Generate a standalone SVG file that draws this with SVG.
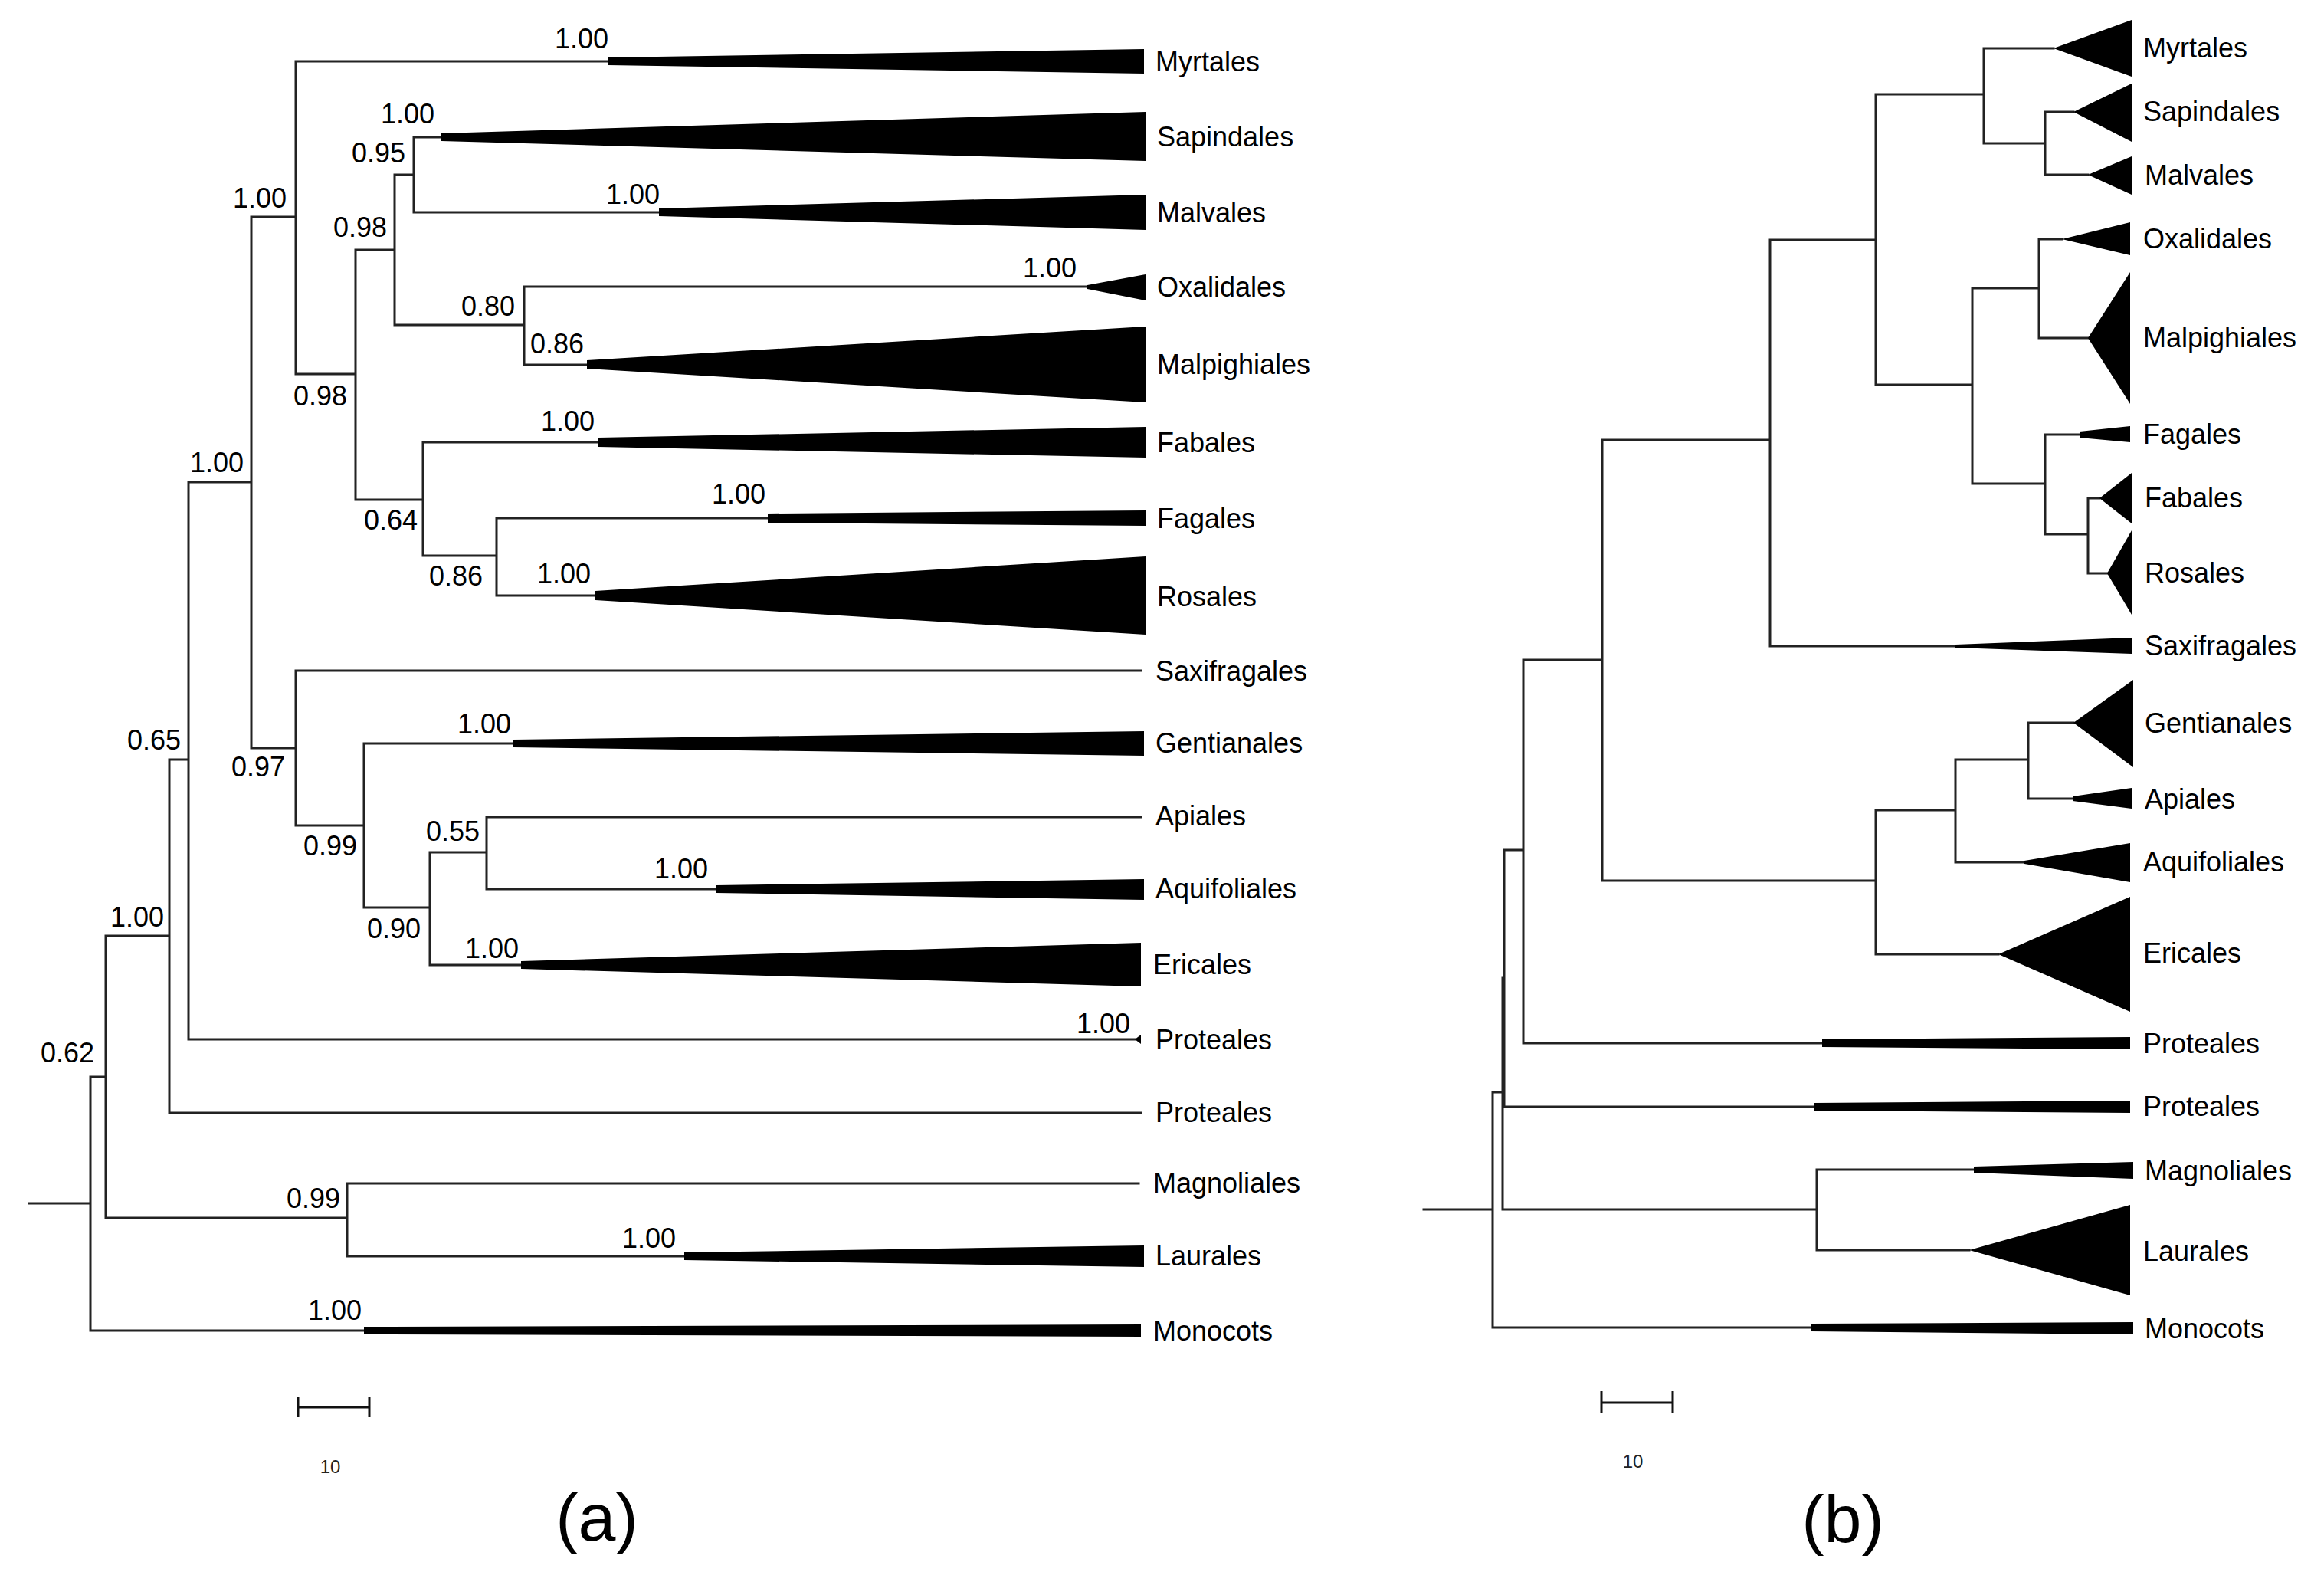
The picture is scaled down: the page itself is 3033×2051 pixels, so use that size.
<svg xmlns="http://www.w3.org/2000/svg" width="3033" height="2051" viewBox="0 0 3033 2051">
<style>
.br{fill:none;stroke:#222;stroke-width:3;stroke-linecap:square}
.cl{fill:#000;stroke:none}
.lb{font-family:"Liberation Sans",Arial,sans-serif;font-size:36px;fill:#000}
.sv{font-family:"Liberation Sans",Arial,sans-serif;font-size:36px;fill:#000}
.sc{font-family:"Liberation Sans",Arial,sans-serif;font-size:24px;fill:#222;text-anchor:middle}
.pl{font-family:"Liberation Sans",Arial,sans-serif;font-size:88px;fill:#000;text-anchor:middle}
.bar{fill:none;stroke:#111;stroke-width:3}
</style>
<rect width="3033" height="2051" fill="#fff"/>

<!-- ===== Tree (a) ===== -->
<g id="tree-a-connectors">
<path class="br" d="M38,1570H118 M118,1405V1736 M118,1405H138 M118,1736H475
M138,1221V1589 M138,1221H221 M138,1589H453
M453,1544V1639 M453,1544H1486 M453,1639H893
M221,991V1452 M221,991H246 M221,1452H1489
M246,629V1356 M246,629H328 M246,1356H1481
M328,283V976 M328,283H386 M328,976H386
M386,80V488 M386,80H793 M386,488H464
M464,326V652 M464,326H515 M464,652H552
M515,228V424 M515,228H540 M515,424H684
M540,179V277 M540,179H576 M540,277H860
M684,374V476 M684,374H1419 M684,476H766
M552,577V725 M552,577H781 M552,725H648
M648,676V777 M648,676H1002 M648,777H777
M386,875V1077 M386,875H1489 M386,1077H475
M475,970V1184 M475,970H670 M475,1184H561
M561,1112V1259 M561,1112H635 M561,1259H680
M635,1066V1160 M635,1066H1489 M635,1160H935"/>
</g>

<g id="a-myrtales"><polygon class="cl" points="793,75 1493,64 1493,96 793,85"/><text class="lb" x="1508" y="93">Myrtales</text></g>
<g id="a-sapindales"><polygon class="cl" points="576,174 1495,146 1495,210 576,184"/><text class="lb" x="1510" y="191">Sapindales</text></g>
<g id="a-malvales"><polygon class="cl" points="860,272 1495,254 1495,300 860,282"/><text class="lb" x="1510" y="290">Malvales</text></g>
<g id="a-oxalidales"><polygon class="cl" points="1419,372 1495,358 1495,392 1419,377"/><text class="lb" x="1510" y="387">Oxalidales</text></g>
<g id="a-malpighiales"><polygon class="cl" points="766,470 1495,426 1495,525 766,481"/><text class="lb" x="1510" y="488">Malpighiales</text></g>
<g id="a-fabales"><polygon class="cl" points="781,571 1495,557 1495,597 781,583"/><text class="lb" x="1510" y="590">Fabales</text></g>
<g id="a-fagales"><polygon class="cl" points="1002,670 1495,666 1495,686 1002,682"/><text class="lb" x="1510" y="689">Fagales</text></g>
<g id="a-rosales"><polygon class="cl" points="777,771 1495,726 1495,828 777,783"/><text class="lb" x="1510" y="791">Rosales</text></g>
<g id="a-saxifragales"><text class="lb" x="1508" y="888">Saxifragales</text></g>
<g id="a-gentianales"><polygon class="cl" points="670,965 1493,954 1493,986 670,975"/><text class="lb" x="1508" y="982">Gentianales</text></g>
<g id="a-apiales"><text class="lb" x="1508" y="1077">Apiales</text></g>
<g id="a-aquifoliales"><polygon class="cl" points="935,1155 1493,1147 1493,1174 935,1165"/><text class="lb" x="1508" y="1172">Aquifoliales</text></g>
<g id="a-ericales"><polygon class="cl" points="680,1254 1489,1230 1489,1287 680,1264"/><text class="lb" x="1505" y="1271">Ericales</text></g>
<g id="a-proteales1"><polygon class="cl" points="1481,1356 1489,1350 1489,1362"/><text class="lb" x="1508" y="1369">Proteales</text></g>
<g id="a-proteales2"><text class="lb" x="1508" y="1464">Proteales</text></g>
<g id="a-magnoliales"><text class="lb" x="1505" y="1556">Magnoliales</text></g>
<g id="a-laurales"><polygon class="cl" points="893,1634 1493,1625 1493,1653 893,1644"/><text class="lb" x="1508" y="1651">Laurales</text></g>
<g id="a-monocots"><polygon class="cl" points="475,1731 1489,1728 1489,1744 475,1741"/><text class="lb" x="1505" y="1749">Monocots</text></g>

<g id="a-support">
<text class="sv" x="724" y="63">1.00</text>
<text class="sv" x="497" y="161">1.00</text>
<text class="sv" x="459" y="212">0.95</text>
<text class="sv" x="791" y="266">1.00</text>
<text class="sv" x="304" y="271">1.00</text>
<text class="sv" x="435" y="309">0.98</text>
<text class="sv" x="1335" y="362">1.00</text>
<text class="sv" x="602" y="412">0.80</text>
<text class="sv" x="692" y="461">0.86</text>
<text class="sv" x="383" y="529">0.98</text>
<text class="sv" x="706" y="562">1.00</text>
<text class="sv" x="248" y="616">1.00</text>
<text class="sv" x="475" y="691">0.64</text>
<text class="sv" x="929" y="657">1.00</text>
<text class="sv" x="560" y="764">0.86</text>
<text class="sv" x="701" y="761">1.00</text>
<text class="sv" x="597" y="957">1.00</text>
<text class="sv" x="166" y="978">0.65</text>
<text class="sv" x="302" y="1013">0.97</text>
<text class="sv" x="556" y="1097">0.55</text>
<text class="sv" x="396" y="1116">0.99</text>
<text class="sv" x="854" y="1146">1.00</text>
<text class="sv" x="144" y="1209">1.00</text>
<text class="sv" x="479" y="1224">0.90</text>
<text class="sv" x="607" y="1250">1.00</text>
<text class="sv" x="1405" y="1348">1.00</text>
<text class="sv" x="53" y="1386">0.62</text>
<text class="sv" x="374" y="1576">0.99</text>
<text class="sv" x="812" y="1628">1.00</text>
<text class="sv" x="402" y="1722">1.00</text>
</g>

<g id="a-scale">
<path class="bar" d="M389,1836H482 M389,1823V1849 M482,1823V1849"/>
<text class="sc" x="431" y="1922">10</text>
</g>
<text class="pl" x="779" y="2010">(a)</text>

<!-- ===== Tree (b) ===== -->
<g id="tree-b-connectors">
<path class="br" d="M1858,1578H1948 M1948,1425V1732 M1948,1425H1961 M1948,1732H2363
M1961,1276V1578 M1961,1276H1963 M1961,1578H2371
M1963,1109V1444 M1963,1109H1988 M1963,1444H2368
M1988,861V1361 M1988,861H2091 M1988,1361H2378
M2091,574V1149 M2091,574H2310 M2091,1149H2448
M2310,313V843 M2310,313H2448 M2310,843H2552
M2448,123V502 M2448,123H2589 M2448,502H2574
M2589,63V187 M2589,63H2680 M2589,187H2669
M2669,146V228 M2669,146H2706 M2669,228H2725
M2574,376V631 M2574,376H2661 M2574,631H2669
M2661,312V441 M2661,312H2691 M2661,441H2725
M2669,567V697 M2669,567H2714 M2669,697H2725
M2725,650V748 M2725,650H2740 M2725,748H2750
M2448,1057V1245 M2448,1057H2552 M2448,1245H2608
M2552,991V1125 M2552,991H2647 M2552,1125H2642
M2647,943V1042 M2647,943H2706 M2647,1042H2705
M2371,1526V1631 M2371,1526H2576 M2371,1631H2570"/>
</g>

<g id="b-myrtales"><polygon class="cl" points="2680,63 2782,26 2782,100"/><text class="lb" x="2797" y="75">Myrtales</text></g>
<g id="b-sapindales"><polygon class="cl" points="2706,146 2782,109 2782,185"/><text class="lb" x="2797" y="158">Sapindales</text></g>
<g id="b-malvales"><polygon class="cl" points="2725,228 2782,204 2782,254"/><text class="lb" x="2799" y="241">Malvales</text></g>
<g id="b-oxalidales"><polygon class="cl" points="2691,312 2780,290 2780,333"/><text class="lb" x="2797" y="324">Oxalidales</text></g>
<g id="b-malpighiales"><polygon class="cl" points="2725,441 2780,355 2780,527"/><text class="lb" x="2797" y="453">Malpighiales</text></g>
<g id="b-fagales"><polygon class="cl" points="2714,563 2780,556 2780,577 2714,571"/><text class="lb" x="2797" y="579">Fagales</text></g>
<g id="b-fabales"><polygon class="cl" points="2740,650 2782,617 2782,683"/><text class="lb" x="2799" y="662">Fabales</text></g>
<g id="b-rosales"><polygon class="cl" points="2750,748 2782,692 2782,802"/><text class="lb" x="2799" y="760">Rosales</text></g>
<g id="b-saxifragales"><polygon class="cl" points="2552,841 2782,832 2782,853 2552,845"/><text class="lb" x="2799" y="855">Saxifragales</text></g>
<g id="b-gentianales"><polygon class="cl" points="2706,943 2784,887 2784,1001"/><text class="lb" x="2799" y="956">Gentianales</text></g>
<g id="b-apiales"><polygon class="cl" points="2705,1039 2782,1028 2782,1055 2705,1045"/><text class="lb" x="2799" y="1055">Apiales</text></g>
<g id="b-aquifoliales"><polygon class="cl" points="2642,1123 2780,1100 2780,1151 2642,1127"/><text class="lb" x="2797" y="1137">Aquifoliales</text></g>
<g id="b-ericales"><polygon class="cl" points="2608,1245 2780,1170 2780,1320"/><text class="lb" x="2797" y="1256">Ericales</text></g>
<g id="b-proteales1"><polygon class="cl" points="2378,1356 2780,1353 2780,1369 2378,1366"/><text class="lb" x="2797" y="1374">Proteales</text></g>
<g id="b-proteales2"><polygon class="cl" points="2368,1439 2780,1436 2780,1452 2368,1449"/><text class="lb" x="2797" y="1456">Proteales</text></g>
<g id="b-magnoliales"><polygon class="cl" points="2576,1522 2784,1516 2784,1538 2576,1530"/><text class="lb" x="2799" y="1540">Magnoliales</text></g>
<g id="b-laurales"><polygon class="cl" points="2570,1631 2780,1572 2780,1690"/><text class="lb" x="2797" y="1645">Laurales</text></g>
<g id="b-monocots"><polygon class="cl" points="2363,1727 2784,1725 2784,1741 2363,1737"/><text class="lb" x="2799" y="1746">Monocots</text></g>

<g id="b-scale">
<path class="bar" d="M2090,1830H2183 M2090,1815V1844 M2183,1815V1844"/>
<text class="sc" x="2131" y="1915">10</text>
</g>
<text class="pl" x="2405" y="2012">(b)</text>
</svg>
